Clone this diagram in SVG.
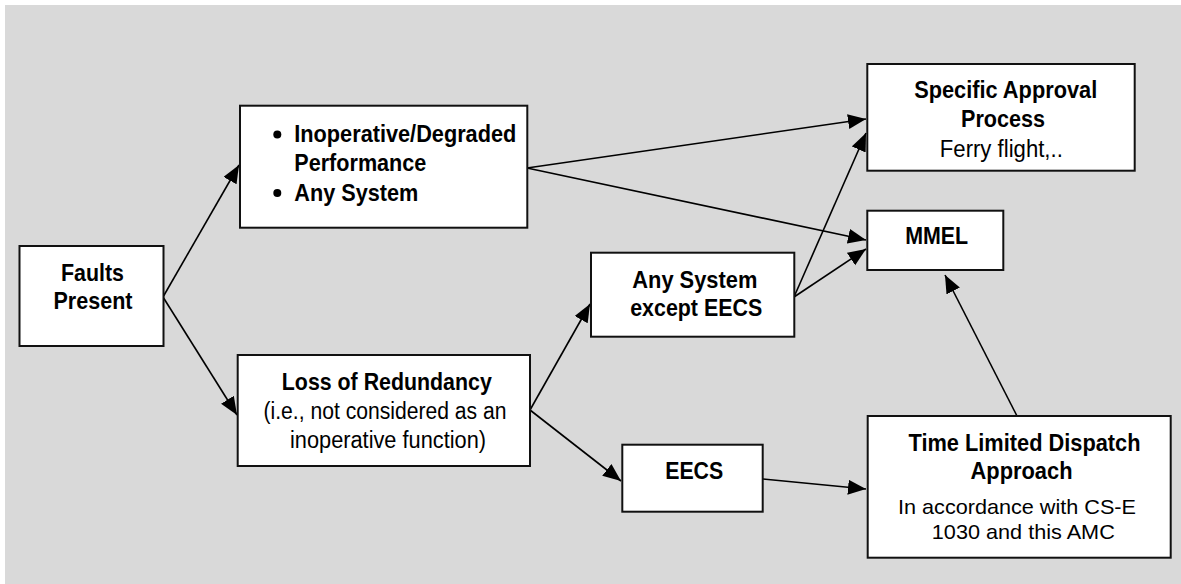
<svg xmlns="http://www.w3.org/2000/svg" width="1181" height="584" viewBox="0 0 1181 584">
<style>
.box{fill:#ffffff;stroke:#111111;stroke-width:2}
.b{font-family:"Liberation Sans",Arial,sans-serif;font-weight:bold;font-size:24px;fill:#000}
.r{font-family:"Liberation Sans",Arial,sans-serif;font-size:23px;fill:#000}
.s{font-size:21px}
.c{text-anchor:middle}
.edge{stroke:#000;stroke-width:1.6;fill:none;marker-end:url(#arr)}
</style>
<defs>
<marker id="arr" markerUnits="userSpaceOnUse" markerWidth="20" markerHeight="16" refX="18" refY="7.5" orient="auto">
<path d="M0,0 L18,7.5 L0,15 z" fill="#000"/>
</marker>
</defs>
<rect x="0" y="0" width="1181" height="584" fill="#ffffff"/>
<rect x="5" y="5" width="1176" height="579" fill="#d9d9d9"/>

<g id="connectors">
<line class="edge" x1="163" y1="297" x2="239" y2="165"/>
<line class="edge" x1="163" y1="297" x2="237" y2="415"/>
<line class="edge" x1="527" y1="168" x2="866" y2="119"/>
<line class="edge" x1="527" y1="168" x2="866" y2="240"/>
<line class="edge" x1="530" y1="410" x2="590" y2="304"/>
<line class="edge" x1="530" y1="410" x2="621" y2="481"/>
<line class="edge" x1="794" y1="297" x2="866" y2="133"/>
<line class="edge" x1="794" y1="297" x2="866" y2="249"/>
<line class="edge" x1="763" y1="479" x2="866" y2="489"/>
<line class="edge" x1="1017" y1="416" x2="945" y2="275"/>
</g>

<g id="faults">
<rect class="box" x="19.5" y="246" width="144" height="100"/>
<text class="b c" x="92.5" y="281" textLength="63" lengthAdjust="spacingAndGlyphs">Faults</text>
<text class="b c" x="93" y="309" textLength="79" lengthAdjust="spacingAndGlyphs">Present</text>
</g>

<g id="inoperative">
<rect class="box" x="240" y="105.7" width="287.3" height="122"/>
<circle cx="277.3" cy="134.5" r="4" fill="#000"/>
<circle cx="277.3" cy="193" r="4" fill="#000"/>
<text class="b" x="294.3" y="142.3" textLength="222" lengthAdjust="spacingAndGlyphs">Inoperative/Degraded</text>
<text class="b" x="294.3" y="170.7" textLength="132" lengthAdjust="spacingAndGlyphs">Performance</text>
<text class="b" x="294.3" y="201" textLength="124" lengthAdjust="spacingAndGlyphs">Any System</text>
</g>

<g id="loss">
<rect class="box" x="237.7" y="355" width="292.3" height="111"/>
<text class="b c" x="386.8" y="390" textLength="210" lengthAdjust="spacingAndGlyphs">Loss of Redundancy</text>
<text class="r c" x="385" y="419" textLength="243" lengthAdjust="spacingAndGlyphs">(i.e., not considered as an</text>
<text class="r c" x="388" y="448" textLength="196" lengthAdjust="spacingAndGlyphs">inoperative function)</text>
</g>

<g id="anysystem">
<rect class="box" x="591" y="252.7" width="203.3" height="84"/>
<text class="b c" x="694.8" y="287.7" textLength="125" lengthAdjust="spacingAndGlyphs">Any System</text>
<text class="b c" x="696.2" y="316" textLength="132" lengthAdjust="spacingAndGlyphs">except EECS</text>
</g>

<g id="eecs">
<rect class="box" x="622.3" y="444.7" width="140.4" height="67"/>
<text class="b c" x="694.2" y="479.3" textLength="58" lengthAdjust="spacingAndGlyphs">EECS</text>
</g>

<g id="specific">
<rect class="box" x="867.3" y="64" width="267.4" height="106.7"/>
<text class="b c" x="1005.7" y="98.3" textLength="183" lengthAdjust="spacingAndGlyphs">Specific Approval</text>
<text class="b c" x="1003" y="126.7" textLength="84" lengthAdjust="spacingAndGlyphs">Process</text>
<text class="r c" x="1001.3" y="156.7" textLength="123" lengthAdjust="spacingAndGlyphs">Ferry flight,..</text>
</g>

<g id="mmel">
<rect class="box" x="867.3" y="210.7" width="136" height="59.3"/>
<text class="b c" x="936.7" y="244" textLength="63" lengthAdjust="spacingAndGlyphs">MMEL</text>
</g>

<g id="tld">
<rect class="box" x="867.7" y="416" width="303" height="141.7"/>
<text class="b c" x="1024.5" y="450.7" textLength="232" lengthAdjust="spacingAndGlyphs">Time Limited Dispatch</text>
<text class="b c" x="1021.5" y="479.3" textLength="102" lengthAdjust="spacingAndGlyphs">Approach</text>
<text class="r s c" x="1017" y="514" textLength="238" lengthAdjust="spacingAndGlyphs">In accordance with CS-E</text>
<text class="r s c" x="1023.3" y="539" textLength="183" lengthAdjust="spacingAndGlyphs">1030 and this AMC</text>
</g>
</svg>
